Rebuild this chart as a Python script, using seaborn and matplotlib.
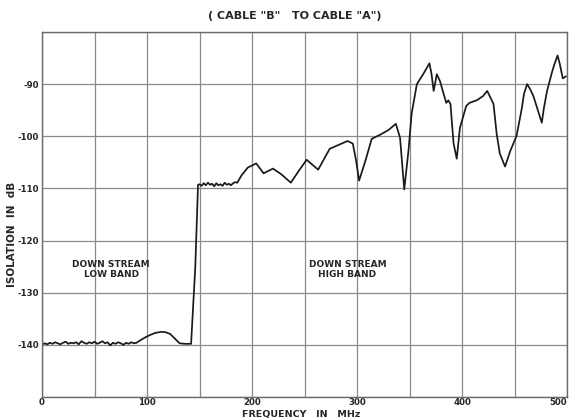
import matplotlib
matplotlib.use("Agg")
import matplotlib.pyplot as plt
import seaborn as sns
import pandas as pd

# ---- data ----
low_noise_freq = [0, 2.5, 5, 7.5, 10, 12.5, 15, 17.5, 20, 22.5, 25, 27.5, 30, 32.5, 35,
                  37.5, 40, 42.5, 45, 47.5, 50, 52.5, 55, 57.5, 60, 62.5, 65, 67.5, 70,
                  72.5, 75, 77.5, 80, 82.5, 85, 87.5, 90]
low_noise_db = [-140.0, -139.7, -139.9, -139.6, -139.8, -139.5, -139.7, -139.9, -139.6,
                -139.4, -139.8, -139.6, -139.7, -139.5, -139.9, -139.3, -139.6, -139.8,
                -139.5, -139.7, -139.4, -139.8, -139.6, -139.3, -139.7, -139.5, -140.1,
                -139.6, -139.8, -139.5, -139.7, -140.0, -139.6, -139.8, -139.5, -139.7,
                -139.6]
hump_freq = [93, 98, 103, 108, 114, 118, 122, 127, 131, 136, 142, 146, 148.6]
hump_db = [-139.2, -138.6, -138.1, -137.7, -137.5, -137.6, -137.9, -138.9, -139.7,
           -139.8, -139.8, -125.0, -109.3]
mid_noise_freq = [150, 152, 154, 156, 158, 160, 162, 164, 166, 168, 170, 172, 174, 176,
                  178, 180, 182, 184, 186]
mid_noise_db = [-109.2, -109.5, -109.0, -109.4, -108.9, -109.3, -109.1, -109.6, -109.0,
                -109.4, -109.2, -109.5, -108.9, -109.3, -109.1, -109.4, -109.0, -108.8,
                -108.9]
high_freq = [190, 196, 204, 211, 220, 228, 237, 244, 252, 263, 274, 283, 291, 296, 299,
             302, 308, 314, 322, 330, 337, 341, 345, 349, 352, 357, 363, 369, 371, 373,
             376, 379, 385, 387, 389, 392, 395, 398, 404, 407, 414, 420, 424, 430, 433,
             436, 441, 446, 452, 457, 459, 462, 465, 468, 471, 476, 478, 481, 486, 488,
             491, 493, 496, 499]
high_db = [-107.5, -106.0, -105.2, -107.1, -106.2, -107.3, -108.9, -106.8, -104.5, -106.4,
           -102.4, -101.6, -100.9, -101.4, -104.5, -108.5, -104.7, -100.5, -99.7, -98.8,
           -97.6, -100.3, -110.2, -102.8, -95.7, -90.0, -88.1, -86.0, -88.1, -91.3, -88.1,
           -89.4, -93.6, -93.1, -93.8, -101.4, -104.3, -98.4, -94.2, -93.6, -93.1, -92.3,
           -91.3, -93.8, -99.5, -103.3, -105.8, -102.8, -99.9, -94.6, -91.9, -90.0, -91.0,
           -92.3, -94.2, -97.4, -94.6, -91.3, -87.5, -86.2, -84.5, -86.0, -88.9, -88.5]

x_ticks = [0, 100, 200, 300, 400, 500]
y_ticks = [-90, -100, -110, -120, -130, -140]
title = '( CABLE "B"   TO CABLE "A")'
x_label = "FREQUENCY   IN   MHz"
y_label = "ISOLATION  IN  dB"
band_labels = ["DOWN STREAM\nLOW BAND", "DOWN STREAM\nHIGH BAND"]
band_pos = [(66, -125.6), (291, -125.6)]

freq = low_noise_freq + hump_freq + mid_noise_freq + high_freq
iso = low_noise_db + hump_db + mid_noise_db + high_db
df = pd.DataFrame({"freq": freq, "iso": iso})

sns.set_style("white")
plt.rcParams["font.family"] = ["DejaVu Sans"]

fig = plt.figure(figsize=(5.7, 4.18), dpi=100)
ax = fig.add_axes([42 / 570, 1 - 397 / 418, 525 / 570, 365 / 418])

sns.lineplot(data=df, x="freq", y="iso", ax=ax, color="#1a1a1a", linewidth=1.25,
             sort=False, estimator=None)

ax.set_xlim(0, 500)
ax.set_ylim(-150, -80)
ax.set_xticks(range(0, 501, 50))
ax.set_yticks(range(-150, -79, 10))
ax.grid(True, color="#8a8a8a", linewidth=0.9)
ax.set_xticklabels([str(v) if v in x_ticks else "" for v in range(0, 501, 50)])
ax.set_yticklabels([str(v) if v in y_ticks else "" for v in range(-150, -79, 10)])
ax.tick_params(length=0, labelsize=6.2)
ax.tick_params(axis="x", pad=1)
ax.tick_params(axis="y", pad=2)
for lab in ax.get_xticklabels() + ax.get_yticklabels():
    lab.set_fontweight("bold")
last = ax.get_xticklabels()[-1]
last.set_horizontalalignment("right")
for s in ax.spines.values():
    s.set_color("#6a6a6a")
    s.set_linewidth(1.0)

ax.set_xlabel("")
ax.set_ylabel("")
fig.text(301 / 570, 1 - 414 / 418, x_label, ha="center", va="center",
         fontsize=6.8, fontweight="bold")
fig.text(12 / 570, 1 - 234 / 418, y_label, ha="center", va="center", rotation=90,
         fontsize=7.5, fontweight="bold")
fig.text(295 / 570, 1 - 16 / 418, title, ha="center", va="center",
         fontsize=8, fontweight="bold")

for txt, (fx, fy) in zip(band_labels, band_pos):
    ax.text(fx, fy, txt, ha="center", va="center", fontsize=6.5, fontweight="bold",
            linespacing=1.2)

fig.savefig("out.png", dpi=100)
